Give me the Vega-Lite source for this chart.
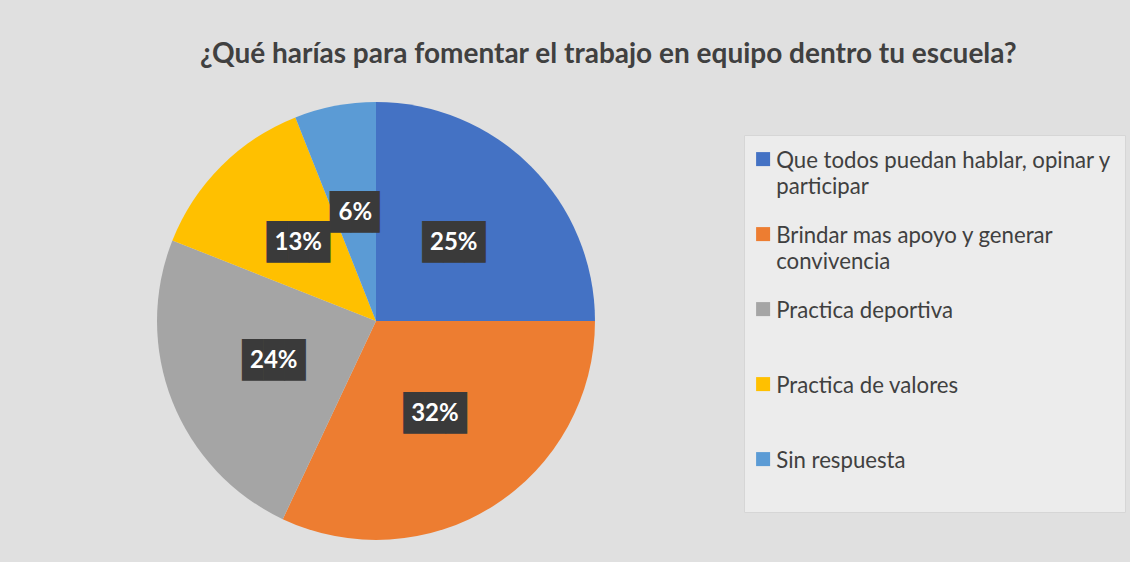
{
  "$schema": "https://vega.github.io/schema/vega-lite/v6.json",
  "width": 738,
  "height": 482,
  "autosize": {"type": "none"},
  "padding": {"left": 7, "top": 80, "right": 385, "bottom": 0},
  "background": "#e0e0e0",
  "config": {"view": {"stroke": null}, "font": "Lato"},
  "title": {
    "text": "¿Qué harías para fomentar el trabajo en equipo dentro tu escuela?",
    "font": "Lato",
    "fontSize": 28,
    "fontWeight": "bold",
    "color": "#404040",
    "anchor": "start",
    "frame": "group",
    "dx": 193,
    "offset": 11
  },
  "data": {
    "values": [
      {"respuesta": "Que todos puedan hablar, opinar y participar", "porcentaje": 25, "etiqueta": "25%", "orden": 1},
      {"respuesta": "Brindar mas apoyo y generar convivencia", "porcentaje": 32, "etiqueta": "32%", "orden": 2},
      {"respuesta": "Practica deportiva", "porcentaje": 24, "etiqueta": "24%", "orden": 3},
      {"respuesta": "Practica de valores", "porcentaje": 13, "etiqueta": "13%", "orden": 4},
      {"respuesta": "Sin respuesta", "porcentaje": 6, "etiqueta": "6%", "orden": 5}
    ]
  },
  "encoding": {
    "theta": {"field": "porcentaje", "type": "quantitative", "stack": true},
    "order": {"field": "orden", "type": "quantitative"}
  },
  "layer": [
    {
      "mark": {"type": "arc", "outerRadius": 219},
      "encoding": {
        "color": {
          "field": "respuesta",
          "type": "nominal",
          "scale": {
            "domain": ["Que todos puedan hablar, opinar y participar", "Brindar mas apoyo y generar convivencia", "Practica deportiva", "Practica de valores", "Sin respuesta"],
            "range": ["#4472C4", "#ED7D31", "#A5A5A5", "#FFC000", "#5B9BD5"]
          },
          "legend": {
            "title": null,
            "orient": "none",
            "legendX": 737,
            "legendY": 55,
            "direction": "vertical",
            "symbolType": "square",
            "symbolSize": 196,
            "symbolStrokeWidth": 0,
            "symbolOffset": -5,
            "labelFont": "Lato",
            "labelFontSize": 22.2,
            "labelColor": "#404040",
            "labelLimit": 400,
            "labelOffset": 2,
            "labelBaseline": "top",
            "rowPadding": 24,
            "padding": 13,
            "fillColor": "#ececec",
            "strokeColor": "#d6d6d6",
            "labelExpr": "datum.label == 'Que todos puedan hablar, opinar y participar' ? ['Que todos puedan hablar, opinar y', 'participar'] : datum.label == 'Brindar mas apoyo y generar convivencia' ? ['Brindar mas apoyo y generar', 'convivencia'] : [datum.label, '']",
            "encode": {
              "labels": {"update": {"lineHeight": {"value": 26}, "dy": {"value": -9}}}
            }
          }
        }
      }
    },
    {
      "mark": {
        "type": "text",
        "radius": 110,
        "font": "DejaVu Sans Mono",
        "fontSize": 35,
        "color": "#3a3a3a",
        "dx": {"expr": "length(datum.etiqueta) > 2 ? 0 : 6"},
        "text": {"expr": "length(datum.etiqueta) > 2 ? '███' : '██▍'"}
      }
    },
    {
      "mark": {
        "type": "text",
        "radius": 110,
        "font": "Lato",
        "fontSize": 24,
        "fontWeight": "bold",
        "color": "#ffffff"
      },
      "encoding": {"text": {"field": "etiqueta", "type": "nominal"}}
    }
  ]
}
